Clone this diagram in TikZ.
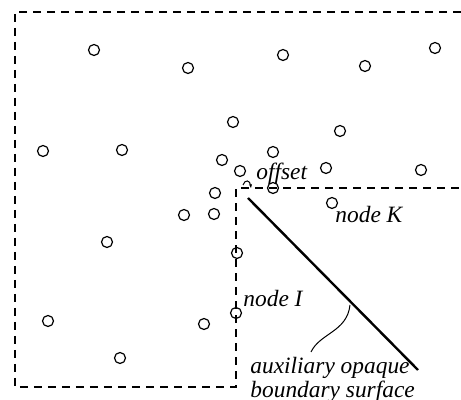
\documentclass[tikz,border=0pt]{standalone}
\usepackage{fontspec}
\setmainfont{Liberation Serif}
\usepackage{tikz}
\usetikzlibrary{arrows.meta, positioning}

\begin{document}
\begin{tikzpicture}[
  x=0.5pt, y=-0.5pt,
  pt/.style={circle, draw, line width=0.6pt, inner sep=0pt, minimum size=5.5pt},
  bnd/.style={line width=1.3pt, dash pattern=on 4pt off 3pt},
  lbl/.style={font=\itshape\fontsize{11.7}{10.5}\selectfont, inner sep=0pt}
]
\useasboundingbox (0,0) rectangle (461,400);

% sample points
\foreach \x/\y [count=\i] in {94/50, 188/68, 283/55, 365/66, 435/48,
    233/122, 340/131, 43/151, 122/150, 273/152, 222/160, 240/171,
    326/168, 421/170, 215/193, 273/188, 332/203, 214/214, 184/215,
    107/242, 237/253, 236/313, 48/321, 204/324, 120/358}
  \node[pt] (p\i) at (\x,\y) {};

% dashed boundaries
\coordinate (tl) at (15,12);
\coordinate (tr) at (461,12);
\coordinate (bl) at (15,387);
\coordinate (br) at (236,387);
\coordinate (cn) at (236,188);
\coordinate (er) at (461,188);
\draw[bnd] (tr) -- (tl) -- (bl) -- (br) -- (cn) -- (er);

% opaque surface
\coordinate (sa) at (248,198);
\coordinate (sb) at (418,370);
\draw[line width=1.2pt] (sa) -- (sb);

% labels
\node[lbl, anchor=base west] (off) at (256,180) {offset};
\node[lbl, anchor=base west] (nk) at (335,223) {node K};
\node[lbl, anchor=base west] (ni) at (243,307) {node I};
\node[lbl, anchor=north west, align=left] (aux) at (250,357)
  {auxiliary opaque\\boundary surface};

% offset hook
\coordinate (h1) at (243,185);
\coordinate (h2) at (251,188);
\draw[line width=0.5pt, -{Stealth[length=2pt]}] (h1) .. controls (245,179) and (250,180) .. (h2);

% pointer to the surface
\coordinate (ps) at (350,305);
\draw[line width=0.5pt] (311,352) .. controls (320,333) and (347,332) .. (ps);
\end{tikzpicture}
\end{document}
